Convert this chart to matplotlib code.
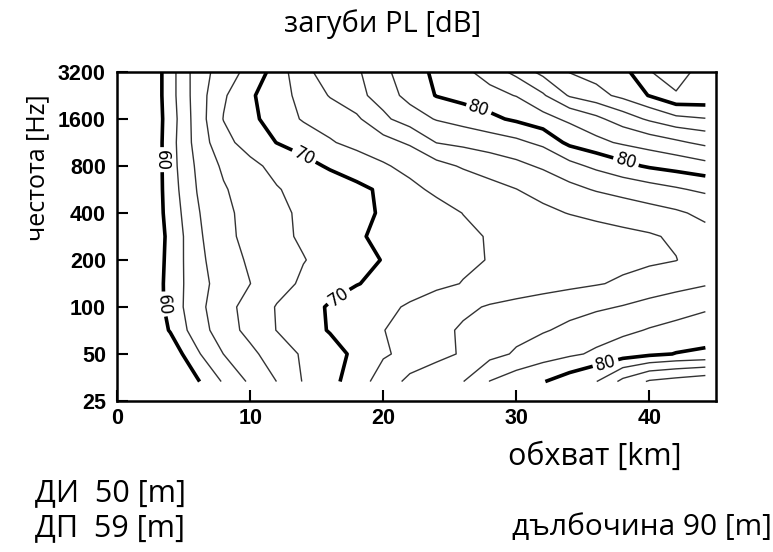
import matplotlib
matplotlib.use('Agg')
import matplotlib.pyplot as plt
from matplotlib.ticker import NullLocator

# --- data ---
# range in km (grid columns) and frequency in Hz (grid rows)
range_km = [0, 2, 4, 6, 8, 10, 12, 14, 16, 18, 20, 22, 24, 26, 28, 30, 32, 34, 36, 38, 40, 42, 44.2]
freq_hz = [3200, 2263, 1600, 1131, 800, 566, 400, 283, 200, 141, 100, 71, 50, 33.3]

# propagation loss PL [dB], one row per frequency
pl_3200 = [54.0, 57.4, 61.2, 64.96, 66.96, 68.64, 70.84, 73.54, 74.77, 75.68, 77.53, 79.1, 80.39, 81.5, 82.85, 84.59, 86.62, 88.08, 88.88, 89.3, 91.9, 93.0, 91.0]
pl_2263 = [54.0, 57.4, 61.2, 64.95, 67.74, 69.71, 71.17, 72.62, 74.13, 75.38, 76.91, 78.7, 80.09, 80.74, 81.39, 82.08, 83.75, 86.22, 87.3, 88.54, 90.1, 91.8, 91.7]
pl_1600 = [54.0, 57.5, 61.0, 64.88, 68.07, 69.5, 70.93, 72.19, 72.93, 73.67, 75.57, 77.03, 78.14, 78.84, 79.54, 80.35, 81.35, 82.4, 83.54, 85.0, 86.32, 87.5, 87.9]
pl_1131 = [53.8, 57.3, 61.2, 64.73, 67.37, 68.85, 70.04, 70.93, 71.82, 72.6, 73.36, 74.26, 76.05, 76.52, 77.04, 77.56, 78.46, 80.52, 81.48, 82.3, 82.97, 83.63, 84.5]
pl_800 = [53.8, 57.3, 61.2, 64.3, 66.35, 67.53, 68.52, 69.39, 70.23, 71.0, 71.77, 72.58, 73.42, 74.2, 74.85, 75.51, 76.28, 77.39, 78.45, 79.45, 80.25, 80.8, 81.4]
pl_566 = [54.0, 57.5, 61.04, 64.04, 65.82, 66.9, 67.9, 68.49, 69.03, 69.58, 70.29, 71.56, 72.35, 72.89, 73.43, 73.97, 74.72, 75.47, 76.16, 76.69, 77.23, 77.76, 78.4]
pl_400 = [54.2, 57.9, 60.76, 63.8, 65.54, 66.66, 67.57, 68.33, 68.95, 69.57, 70.18, 70.8, 71.42, 72.03, 72.55, 73.06, 73.58, 74.08, 74.5, 74.92, 75.33, 75.75, 76.4]
pl_283 = [54.5, 58.2, 60.44, 63.59, 65.45, 66.59, 67.47, 68.3, 69.06, 69.81, 70.34, 70.8, 71.25, 71.7, 72.1, 72.38, 72.66, 72.94, 73.23, 73.5, 73.79, 74.28, 75.5]
pl_200 = [54.5, 58.1, 60.56, 63.46, 65.07, 66.29, 67.1, 67.92, 68.65, 69.38, 70.08, 70.6, 71.12, 71.64, 72.08, 72.35, 72.61, 72.88, 73.15, 73.41, 73.68, 73.95, 75.0]
pl_141 = [54.4, 58.1, 60.67, 63.3, 64.77, 65.98, 67.25, 68.32, 69.12, 69.92, 70.49, 71.03, 71.57, 72.07, 72.43, 72.79, 73.14, 73.5, 73.86, 74.29, 74.78, 75.26, 75.8]
pl_100 = [54.3, 57.9, 60.7, 63.38, 65.24, 66.78, 68.11, 69.22, 70.2, 70.87, 71.55, 72.23, 72.92, 73.62, 74.17, 74.55, 74.93, 75.31, 75.7, 76.1, 76.62, 77.13, 77.7]
pl_71 = [54.0, 57.5, 60.18, 63.05, 65.0, 66.64, 68.05, 69.11, 70.14, 71.05, 71.95, 72.75, 73.53, 74.22, 74.76, 75.3, 75.84, 76.41, 77.0, 77.59, 78.13, 78.54, 79.0]
pl_50 = [53.0, 55.5, 58.6, 61.69, 64.02, 65.54, 66.97, 68.26, 69.28, 70.4, 71.73, 72.62, 73.38, 74.22, 75.3, 76.25, 76.95, 77.65, 78.32, 78.95, 79.59, 80.07, 80.3]
pl_33 = [52.25, 54.75, 57.25, 59.75, 62.22, 64.33, 66.02, 68.13, 69.42, 70.96, 73.0, 74.45, 75.21, 75.96, 78.05, 78.98, 79.91, 80.92, 81.95, 84.53, 86.23, 86.74, 87.3]

pl_db = [pl_3200, pl_2263, pl_1600, pl_1131, pl_800, pl_566, pl_400,
         pl_283, pl_200, pl_141, pl_100, pl_71, pl_50, pl_33]

thin_levels = [62, 64, 66, 68, 72, 74, 76, 78, 82, 84, 86, 88, 92]
thick_levels = [60, 70, 80, 90]
labelled = [60, 70, 80]

x_ticks = [0, 10, 20, 30, 40]
y_ticks = [25, 50, 100, 200, 400, 800, 1600, 3200]

# where the inline labels sit (km, Hz)
label_spots = [(3.3, 870), (3.65, 103), (13.8, 849), (16.5, 121),
               (27.1, 1777), (38.2, 835), (36.8, 40.7)]

text_font = ['Open Sans', 'DejaVu Sans']
tick_font = ['Liberation Sans', 'DejaVu Sans']

fig = plt.figure(figsize=(7.73, 5.52), dpi=100)
ax = fig.add_axes([0.1514, 0.2736, 0.7749, 0.596])

ax.set_yscale('log', base=2)

ax.contour(range_km, freq_hz, pl_db, levels=thin_levels, colors='#333333',
           linewidths=1.0)
cs = ax.contour(range_km, freq_hz, pl_db, levels=thick_levels, colors='black',
                linewidths=2.6)
ax.clabel(cs, levels=labelled, manual=label_spots, fmt='%d', fontsize=12,
          inline=True, inline_spacing=3)

ax.set_xlim(0, 45)
ax.set_ylim(25, 3200)
ax.set_xticks(x_ticks, [str(v) for v in x_ticks], fontweight='bold', family=tick_font)
ax.set_yticks(y_ticks, [str(v) for v in y_ticks], fontweight='bold', family=tick_font)
ax.yaxis.set_minor_locator(NullLocator())
ax.tick_params(direction='in', length=8, width=1.5, labelsize=15.5, pad=8)
ax.tick_params(axis='x', pad=5)

for s in ax.spines.values():
    s.set_linewidth(1.8)

fig.text(0.4955, 0.956, 'загуби PL [dB]', ha='center', va='center',
         fontsize=21, family=text_font)
fig.text(0.049, 0.696, 'честота [Hz]', ha='center', va='center', rotation=90,
         fontsize=18, family=text_font)
fig.text(0.657, 0.172, 'обхват [km]', ha='left', va='center',
         fontsize=22, family=text_font)
fig.text(0.045, 0.107, 'ДИ  50 [m]', ha='left', va='center',
         fontsize=22, family=text_font)
fig.text(0.045, 0.0435, 'ДП  59 [m]', ha='left', va='center',
         fontsize=22, family=text_font)
fig.text(0.662, 0.0435, 'дълбочина 90 [m]', ha='left', va='center',
         fontsize=21.5, family=text_font)

fig.savefig('out.png', dpi=100)
